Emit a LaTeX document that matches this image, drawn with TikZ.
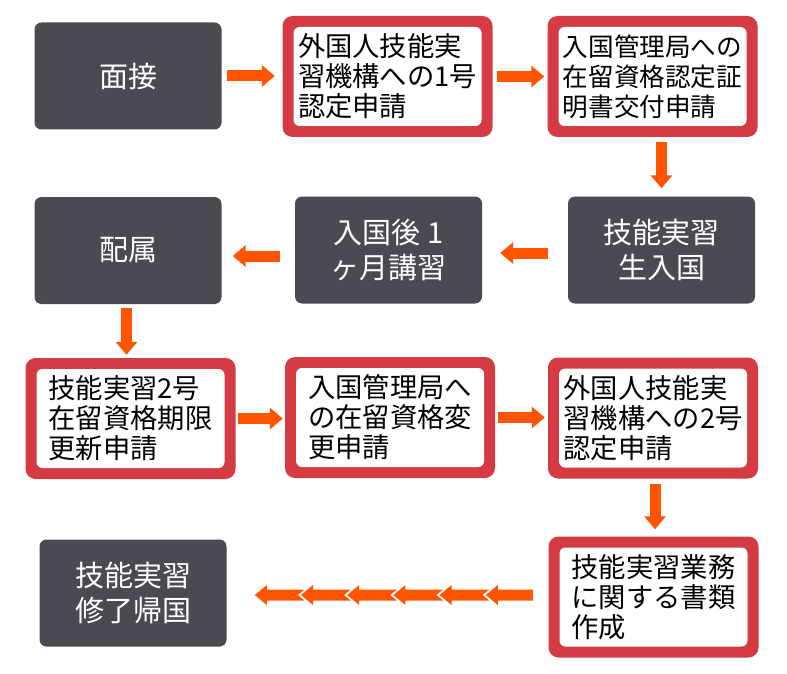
\documentclass[tikz,border=0pt]{standalone}
\usepackage{fontspec}
\setmainfont{Noto Sans CJK JP}
\usetikzlibrary{arrows.meta,calc}
\definecolor{darkbox}{HTML}{4A4B52}
\definecolor{boxred}{HTML}{D43B43}
\definecolor{flow}{HTML}{FF5500}
\tikzset{
  darknode/.style={fill=darkbox, rounded corners=7pt, minimum width=187pt, minimum height=107pt,
    inner sep=0pt, text=white, align=center, font=\fontsize{29}{35}\selectfont},
  redframe/.style={fill=boxred, rounded corners=10pt, minimum width=210pt, minimum height=121pt, inner sep=0pt},
  redinner/.style={fill=white, rounded corners=6pt, minimum width=188pt, minimum height=99pt,
    inner sep=0pt, text=black, align=left, font=\fontsize{27.3}{30}\selectfont},
  blockarrow/.style={draw=flow, line width=11pt, -{Triangle[width=21pt,length=13pt]}},
  chainpart/.style={fill=flow}
}
\begin{document}
\begin{tikzpicture}[x=1pt,y=-1pt]
\fill[white] (0,0) rectangle (787,674);
\useasboundingbox (0,0) rectangle (787,674);
% row 1
\node[darknode] (A) at (128,76) {面接};
\node[redframe] (B) at (387.5,76.5) {};
\node[redinner] (Bt) at (B.center) {外国人技能実\\習機構への1号\\認定申請};
\node[redframe] (C) at (652.5,76.5) {};
\node[redinner, font=\fontsize{25.6}{30}\selectfont] (Ct) at (C.center) {入国管理局への\\在留資格認定証\\明書交付申請};
% row 2
\node[darknode] (D) at (128,250.5) {配属};
\node[darknode] (E) at (388.5,250) {入国後 1\\ヶ月講習};
\node[darknode] (F) at (661.5,250) {技能実習\\生入国};
% row 3
\node[redframe] (G) at (130.5,418.5) {};
\node[redinner] (Gt) at (G.center) {技能実習2号\\在留資格期限\\更新申請};
\node[redframe] (H) at (390,417.5) {};
\node[redinner] (Ht) at (H.center) {入国管理局へ\\の在留資格変\\更申請};
\node[redframe] (I) at (653,418) {};
\node[redinner] (It) at (I.center) {外国人技能実\\習機構への2号\\認定申請};
% row 4
\node[darknode] (J) at (133,593) {技能実習\\修了帰国};
\node[redframe] (K) at (653.5,597) {};
\node[redinner] (Kt) at (K.center) {技能実習業務\\に関する書類\\作成};
% connectors
\coordinate (d1) at ($(D.south)+(-1.5,0)$);
\coordinate (i1) at ($(I.south)+(2,0)$);
\coordinate (f1) at ($(F.west)+(0,3)$);
\coordinate (e1) at ($(E.west)+(0,6)$);
\draw[blockarrow, shorten <=5.5pt, shorten >=7.5pt] (A.east) -- (A.east -| B.west);
\draw[blockarrow, shorten <=4pt, shorten >=3pt] (B.east) -- (B.east -| C.west);
\draw[blockarrow, shorten <=5pt, shorten >=8pt] (C.south -| F.north) -- (F.north);
\draw[blockarrow, shorten <=20pt, shorten >=18pt] (f1) -- (f1 -| E.east);
\draw[blockarrow, shorten <=15pt, shorten >=11pt] (e1) -- (e1 -| D.east);
\draw[blockarrow, shorten <=4pt, shorten >=3pt] (d1) -- (d1 |- G.north);
\draw[blockarrow, shorten <=2pt, shorten >=2pt] (G.east) -- (G.east -| H.west);
\draw[blockarrow, shorten <=3pt, shorten >=3pt] (H.east) -- (H.east -| I.west);
\draw[blockarrow, shorten <=5pt, shorten >=7pt] (i1) -- (i1 |- K.north);
% chain of arrows from K to J
\coordinate (ch) at ($(K.west)+(-15.5,-2)$);
\fill[chainpart] ($(ch)+(-47,0)$) -- ++(12,-10) -- ++(0,4.5) -- ++(35,0) -- ++(0,11) -- ++(-35,0) -- ++(0,4.5) -- cycle;
\foreach \i in {1,...,5}{
  \fill[chainpart] ($(ch)+({-47-46.2*\i},0)$) -- ++(12,-10) -- ++(0,4.5) -- ++(37.6,0) -- ++(-6.6,5.5)
     -- ++(6.6,5.5) -- ++(-37.6,0) -- ++(0,4.5) -- cycle;
}
\end{tikzpicture}
\end{document}
